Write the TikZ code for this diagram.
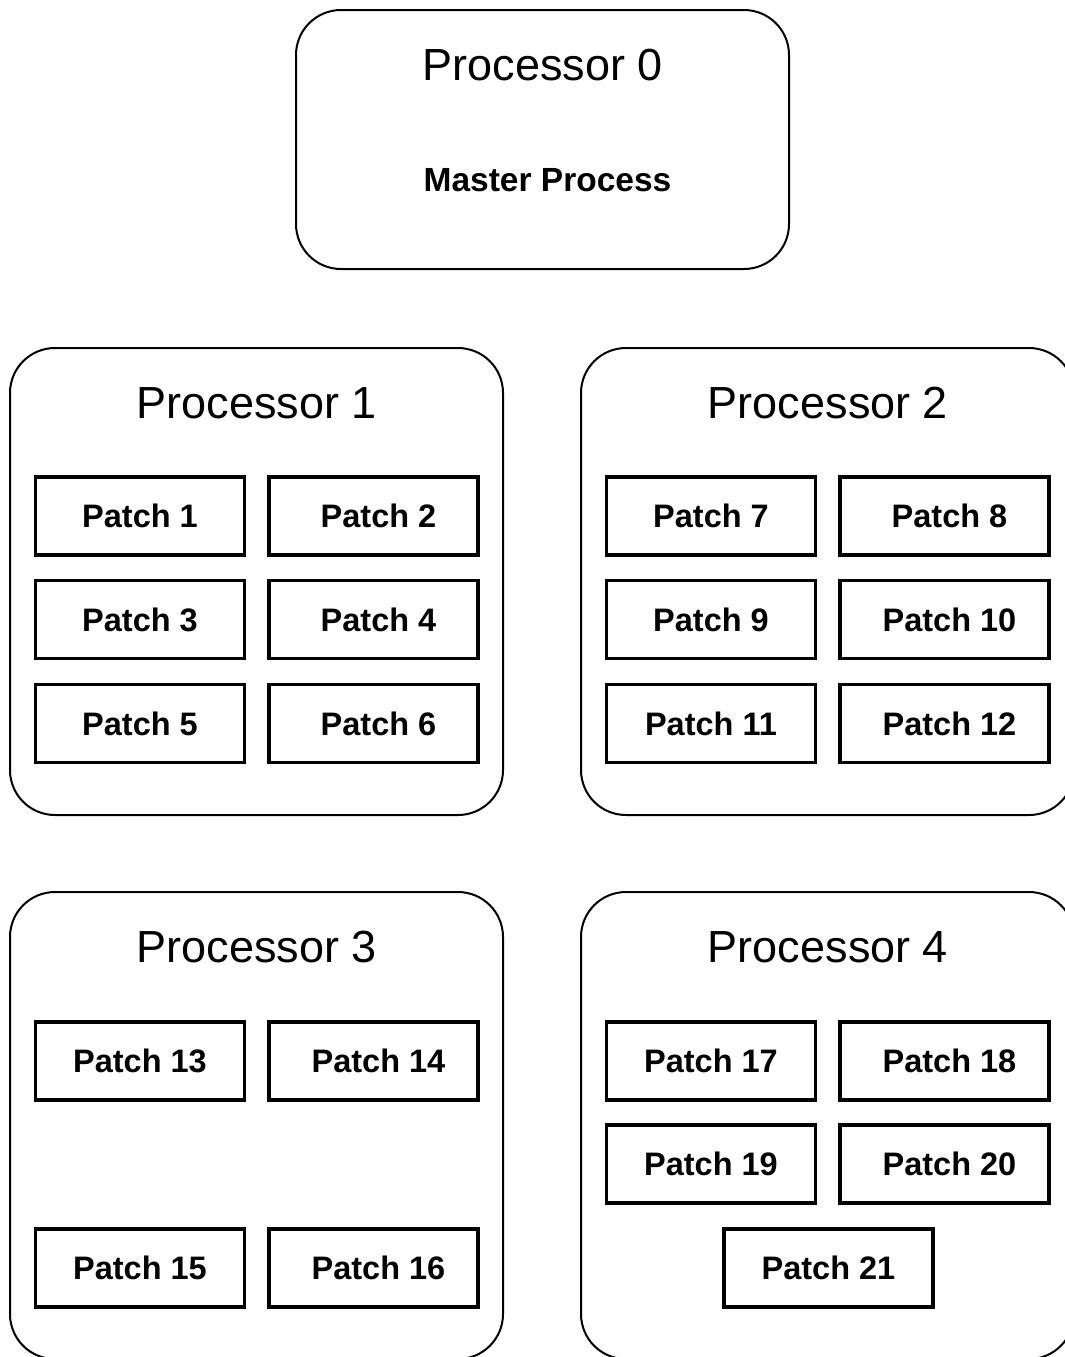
\documentclass[tikz,border=0pt]{standalone}
\usepackage{fontspec}
\setmainfont{Liberation Sans}
\begin{document}
\begin{tikzpicture}[x=1pt,y=-1pt,
  procbox/.style={draw=black, line width=2pt, rounded corners=45pt, minimum width=493pt, inner sep=0pt},
  proctitle/.style={font=\fontsize{45}{54}\selectfont, inner sep=0pt},
  patchbox/.style={draw=black, line width=3.5pt, minimum width=209pt, minimum height=78pt, inner sep=0pt,
    font=\fontsize{32.5}{38}\selectfont\bfseries},
  rtext/.style={execute at begin node=\hspace*{10pt}}]
\useasboundingbox (0,0) rectangle (1065,1357);
\clip (0,0) rectangle (1065,1357);

% master processor
\node[procbox, minimum height=259pt] (p0) at (542.5,139.5) {};
\node[proctitle] (t0) at (543,65) {Processor 0};
\node[font=\fontsize{33.5}{40}\selectfont\bfseries, inner sep=0pt] (mp) at (547.5,180) {Master Process};

% worker processors
\node[procbox, minimum height=467pt] (p1) at (256.5,581.5) {};
\node[procbox, minimum height=467pt] (p2) at (827.5,581.5) {};
\node[procbox, minimum height=467pt] (p3) at (256.5,1125.5) {};
\node[procbox, minimum height=467pt] (p4) at (827.5,1125.5) {};
\node[proctitle] (t1) at (257,403) {Processor 1};
\node[proctitle] (t2) at (828,403) {Processor 2};
\node[proctitle] (t3) at (257,947) {Processor 3};
\node[proctitle] (t4) at (828,947) {Processor 4};

% patches of processor 1
\node[patchbox] (a1) at (140,516) {Patch 1};
\node[patchbox, rtext] (a2) at (373.5,516) {Patch 2};
\node[patchbox] (a3) at (140,619.5) {Patch 3};
\node[patchbox, rtext] (a4) at (373.5,619.5) {Patch 4};
\node[patchbox] (a5) at (140,723.5) {Patch 5};
\node[patchbox, rtext] (a6) at (373.5,723.5) {Patch 6};

% patches of processor 2
\node[patchbox] (a7) at (711,516) {Patch 7};
\node[patchbox, rtext] (a8) at (944.5,516) {Patch 8};
\node[patchbox] (a9) at (711,619.5) {Patch 9};
\node[patchbox, rtext] (a10) at (944.5,619.5) {Patch 10};
\node[patchbox] (a11) at (711,723.5) {Patch 11};
\node[patchbox, rtext] (a12) at (944.5,723.5) {Patch 12};

% patches of processor 3
\node[patchbox] (a13) at (140,1061) {Patch 13};
\node[patchbox, rtext] (a14) at (373.5,1061) {Patch 14};
\node[patchbox] (a15) at (140,1268) {Patch 15};
\node[patchbox, rtext] (a16) at (373.5,1268) {Patch 16};

% patches of processor 4
\node[patchbox] (a17) at (711,1061) {Patch 17};
\node[patchbox, rtext] (a18) at (944.5,1061) {Patch 18};
\node[patchbox] (a19) at (711,1164) {Patch 19};
\node[patchbox, rtext] (a20) at (944.5,1164) {Patch 20};
\node[patchbox] (a21) at (828.5,1268) {Patch 21};
\end{tikzpicture}
\end{document}
